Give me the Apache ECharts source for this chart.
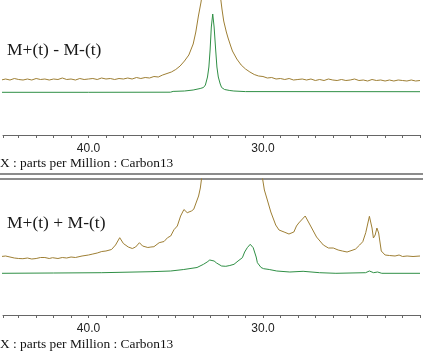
<!DOCTYPE html>
<html>
<head>
<meta charset="utf-8">
<script src="https://cdn.jsdelivr.net/npm/echarts@6/dist/echarts.min.js"></script>
<style>
  html, body { margin: 0; padding: 0; background: #fff; }
  #chart { width: 423px; height: 352px; }
</style>
</head>
<body>
<div id="chart"></div>
<script>
// x in ppm (13C), y in arbitrary intensity units
const tickLabels = [40, 30]

const topDiffPpm = [45.0, 44.75, 44.5, 44.25, 44.0, 43.75, 43.5, 43.25, 43.0, 42.75, 42.5, 42.25, 42.0, 41.75, 41.5, 41.25, 41.0, 40.75, 40.5, 40.25, 40.0, 39.75, 39.5, 39.25, 39.0, 38.75, 38.5, 38.25, 38.0, 37.75, 37.5, 37.25, 37.0, 36.75, 36.5, 36.25, 36.0, 35.75, 35.5, 35.25, 35.0, 34.75, 34.5, 34.25, 34.0, 33.85, 33.7, 33.55, 33.45, 33.3, 33.15, 33.0, 32.9, 32.75, 32.6, 32.45, 32.35, 32.25, 32.1, 32.0, 31.85, 31.75, 31.5, 31.25, 31.0, 30.75, 30.5, 30.25, 30.0, 29.75, 29.5, 29.25, 29.0, 28.75, 28.5, 28.25, 28.0, 27.75, 27.5, 27.25, 27.0, 26.75, 26.5, 26.25, 26.0, 25.75, 25.5, 25.25, 25.0, 24.75, 24.5, 24.25, 24.0, 23.75, 23.5, 23.25, 23.0, 22.75, 22.5, 22.25, 22.0, 21.75, 21.5, 21.25, 21.0]
const topDiffVal = [55, 56, 55, 56.5, 55.5, 55, 56, 55, 56.5, 55.5, 56, 55, 56, 55.5, 57, 55.5, 56, 55, 56.5, 55.5, 56, 56.5, 55.5, 57, 56, 56.5, 55.5, 56.5, 56, 57, 56, 57.5, 56.5, 57.5, 57, 58.5, 58, 60, 61.5, 63, 65.5, 69, 74, 80, 91, 103, 119, 133, 145, 170, 205, 240, 245, 215, 175, 140, 126, 114, 103, 97, 89, 84, 76, 70, 66, 63, 60.5, 59, 58.5, 57, 57.5, 56, 56.5, 55.5, 56.5, 55, 55.5, 56, 55, 56, 54.5, 55.5, 54.5, 56, 55, 54.5, 55.5, 54.5, 55, 56, 54.5, 55, 54, 55.5, 54.5, 55, 54, 55, 54, 55, 54.5, 54, 55, 54, 54.5]

const topGreenPpm = [45.0, 40.0, 35.3, 35.15, 34.5, 34.0, 33.6, 33.41, 33.3, 33.18, 33.1, 33.03, 32.96, 32.88, 32.8, 32.71, 32.64, 32.56, 32.45, 32.37, 32.2, 31.9, 31.67, 31.0, 21.0]
const topGreenVal = [42.7, 42.7, 42.8, 43.6, 44, 45, 46.5, 47.5, 50, 58, 68, 85, 108, 121, 108, 85, 68, 58, 51, 47.5, 45.5, 44.5, 44, 43.4, 43.3]

const sumPpm = [45.0, 44.75, 44.5, 44.25, 44.0, 43.76, 43.5, 43.25, 43.0, 42.75, 42.5, 42.25, 42.06, 41.75, 41.5, 41.25, 41.0, 40.75, 40.37, 40.0, 39.75, 39.5, 39.24, 39.0, 38.68, 38.45, 38.21, 38.0, 37.72, 37.49, 37.3, 37.08, 36.9, 36.8, 36.6, 36.42, 36.25, 35.95, 35.67, 35.47, 35.29, 35.1, 34.91, 34.72, 34.53, 34.34, 34.25, 34.1, 33.97, 33.88, 33.69, 33.59, 33.5, 33.3, 33.0, 32.5, 32.0, 31.5, 31.0, 30.5, 30.2, 30.02, 29.92, 29.75, 29.55, 29.27, 29.08, 28.79, 28.51, 28.23, 28.08, 27.95, 27.58, 27.3, 26.93, 26.54, 26.25, 25.97, 25.69, 25.45, 25.18, 24.84, 24.69, 24.46, 24.28, 24.11, 23.9, 23.75, 23.67, 23.57, 23.47, 23.37, 23.22, 23.0, 22.75, 22.43, 22.2, 22.0, 21.74, 21.4, 21.0]
const sumVal = [58.5, 59, 58, 57, 56.5, 56.3, 57, 56, 56.5, 57.5, 57.5, 56.5, 57.3, 56.5, 57.5, 57, 58, 57.5, 59, 60, 61, 62, 63.5, 64, 65.5, 70, 77.3, 71.5, 68, 66.5, 68, 72.3, 69, 68.3, 67.5, 68, 68.3, 72.3, 73.5, 77.3, 79, 85.3, 89, 99, 105.5, 102.3, 102, 104, 105.7, 107.3, 119, 127, 139, 165, 210, 250, 270, 260, 230, 190, 160, 136, 125, 115, 103, 90, 85, 83, 81, 83, 89, 92, 99, 90, 78, 70, 67, 67, 65, 64, 63, 65, 66, 70, 73.3, 82.3, 98.7, 87, 77, 80, 87, 82, 64, 60, 59.5, 59, 60, 58.5, 59, 58.5, 59]

const sumGreenPpm = [45.0, 42.0, 39.24, 36.42, 35.29, 34.54, 33.78, 33.41, 33.2, 33.05, 32.94, 32.8, 32.66, 32.37, 32.13, 31.9, 31.66, 31.43, 31.18, 31.05, 30.9, 30.73, 30.56, 30.39, 30.32, 30.11, 29.96, 29.64, 29.21, 28.46, 27.7, 26.76, 25.82, 24.12, 23.9, 23.66, 23.43, 23.19, 21.0]
const sumGreenVal = [41.7, 42, 42.3, 43.3, 44, 45.5, 47.5, 50.7, 53, 55, 55.7, 54, 52, 49, 48.7, 49.5, 50.7, 54, 57.3, 63, 67.3, 70.7, 67.3, 58, 52.3, 47.5, 46.3, 45.5, 44, 43, 43.7, 42.3, 41.7, 42.3, 44, 42.3, 43, 41.7, 41.7]

const yellow = '#9e7f34'
const green = '#2f8f45'

function pairs(xs, ys) {
  return xs.map((x, i) => [x, ys[i]])
}

function xAxisFor(gridIndex) {
  return {
    gridIndex,
    type: 'value',
    inverse: true,
    min: 21,
    max: 44.9,
    interval: 1,
    axisLine: { lineStyle: { color: '#666', width: 1 } },
    axisTick: { length: 3, lineStyle: { color: '#666' } },
    splitLine: { show: false },
    axisLabel: {
      margin: 8,
      color: '#222',
      fontFamily: 'Liberation Sans',
      fontSize: 12,
      formatter: v => tickLabels.includes(v) ? v.toFixed(1) : ''
    }
  }
}

const chart = echarts.init(document.getElementById('chart'))

chart.setOption({
  animation: false,
  grid: [
    { left: 0, right: 0, top: 0, height: 135 },
    { left: 0, right: 0, top: 179, height: 136 }
  ],
  xAxis: [xAxisFor(0), xAxisFor(1)],
  yAxis: [
    { gridIndex: 0, type: 'value', min: 0, max: 135, show: false },
    { gridIndex: 1, type: 'value', min: 0, max: 136, show: false }
  ],
  series: [
    { type: 'line', xAxisIndex: 0, yAxisIndex: 0, data: pairs(topDiffPpm, topDiffVal), showSymbol: false, clip: true, lineStyle: { color: yellow, width: 1 } },
    { type: 'line', xAxisIndex: 0, yAxisIndex: 0, data: pairs(topGreenPpm, topGreenVal), showSymbol: false, clip: true, lineStyle: { color: green, width: 1 } },
    { type: 'line', xAxisIndex: 1, yAxisIndex: 1, data: pairs(sumPpm, sumVal), showSymbol: false, clip: true, lineStyle: { color: yellow, width: 1 } },
    { type: 'line', xAxisIndex: 1, yAxisIndex: 1, data: pairs(sumGreenPpm, sumGreenVal), showSymbol: false, clip: true, lineStyle: { color: green, width: 1 } }
  ],
  graphic: [
    { type: 'text', left: 7, top: 41, style: { text: 'M+(t) - M-(t)', font: '17.5px "Liberation Serif"', fill: '#1a1a1a' } },
    { type: 'text', left: 7, top: 214, style: { text: 'M+(t) + M-(t)', font: '17.5px "Liberation Serif"', fill: '#1a1a1a' } },
    { type: 'text', left: 0, top: 157, style: { text: 'X : parts per Million : Carbon13', font: '13.4px "Liberation Serif"', fill: '#111' } },
    { type: 'text', left: 0, top: 338, style: { text: 'X : parts per Million : Carbon13', font: '13.4px "Liberation Serif"', fill: '#111' } },
    { type: 'line', shape: { x1: 0, y1: 174, x2: 423, y2: 174 }, style: { stroke: '#666', lineWidth: 1.5 } },
    { type: 'line', shape: { x1: 0, y1: 179, x2: 423, y2: 179 }, style: { stroke: '#666', lineWidth: 1.5 } }
  ]
})
</script>
</body>
</html>
